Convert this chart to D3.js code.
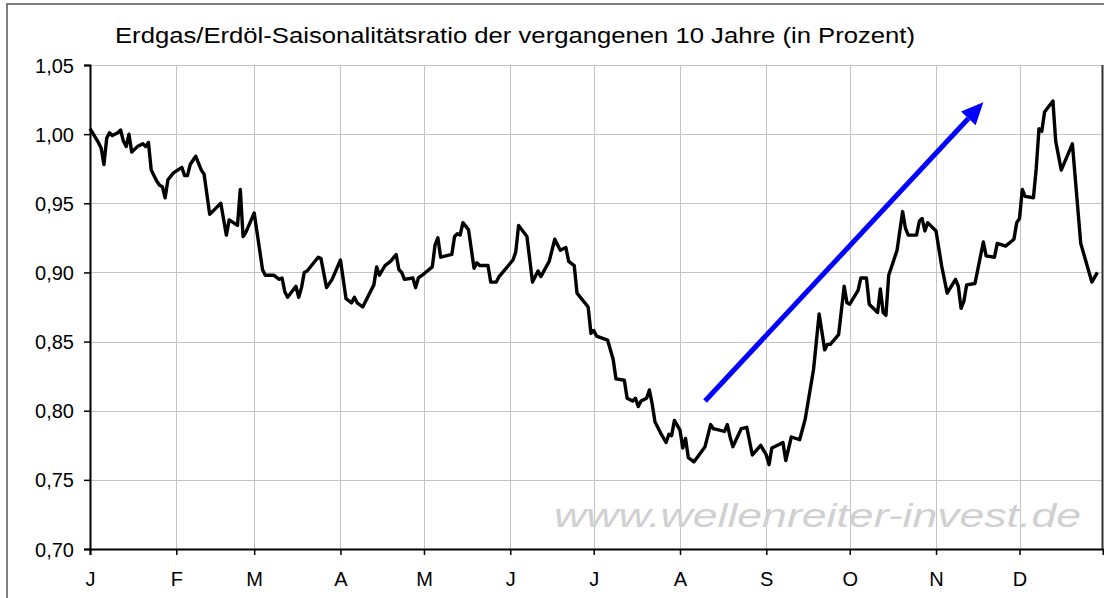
<!DOCTYPE html>
<html>
<head>
<meta charset="utf-8">
<script src="https://cdn.jsdelivr.net/npm/d3@7/dist/d3.min.js"></script>
<style>
  body { margin: 0; background: #fff; }
  svg { display: block; font-family: 'Liberation Sans', Arial, sans-serif; }
</style>
</head>
<body>
<div id="chart"></div>
<script>
var title = 'Erdgas/Erdöl-Saisonalitätsratio der vergangenen 10 Jahre (in Prozent)';
var watermark = 'www.wellenreiter-invest.de';
var monthLetters = ['J', 'F', 'M', 'A', 'M', 'J', 'J', 'A', 'S', 'O', 'N', 'D'];
var yTicks = [0.70, 0.75, 0.80, 0.85, 0.90, 0.95, 1.00, 1.05];

// day of the year (0 = 1st of January) and the ratio on that day
var days = [0, 3, 4, 5, 6, 7, 8, 10, 11, 12, 13, 14, 15, 17, 19, 20, 21, 22, 24, 25,
    26, 27, 28, 30, 33, 34, 35, 36, 38, 40, 41, 43, 47, 49, 50, 53, 54, 55, 56, 59,
    62, 63, 66, 68, 69, 70, 71, 74, 75, 76, 77, 78, 82, 83, 85, 87, 90, 92, 94, 95,
    96, 98, 102, 103, 104, 106, 108, 110, 111, 112, 113, 116, 117, 118, 120, 123, 124, 125, 126, 130,
    131, 132, 133, 134, 136, 138, 139, 140, 143, 144, 146, 147, 152, 153, 154, 157, 159, 161, 162, 165,
    167, 169, 171, 172, 174, 175, 179, 180, 181, 182, 186, 188, 189, 192, 193, 195, 196, 197, 198, 200,
    201, 202, 203, 205, 207, 208, 209, 210, 212, 213, 214, 215, 217, 221, 223, 224, 228, 229, 230, 231,
    234, 236, 238, 241, 243, 244, 245, 248, 249, 250, 252, 255, 257, 260, 262, 264, 265, 266, 269, 271,
    272, 273, 276, 277, 279, 280, 283, 284, 285, 286, 287, 290, 292, 293, 294, 297, 298, 299, 300, 301,
    304, 306, 308, 311, 312, 313, 314, 315, 318, 321, 322, 325, 326, 329, 332, 333, 334, 335, 336, 339,
    340, 341, 342, 343, 346, 347, 349, 353, 356, 360, 362];
var ratio = [1.004, 0.994, 0.990, 0.978, 0.997, 1.001, 0.999, 1.001, 1.003, 0.995, 0.991, 1.000, 0.987, 0.991, 0.993, 0.991, 0.994, 0.974, 0.966, 0.963,
    0.962, 0.954, 0.967, 0.972, 0.976, 0.970, 0.970, 0.978, 0.984, 0.974, 0.971, 0.942, 0.950, 0.927, 0.938, 0.934, 0.960, 0.926, 0.929, 0.943,
    0.902, 0.898, 0.898, 0.895, 0.896, 0.886, 0.882, 0.890, 0.882, 0.889, 0.900, 0.901, 0.911, 0.910, 0.889, 0.895, 0.909, 0.881, 0.878, 0.882,
    0.878, 0.875, 0.891, 0.904, 0.898, 0.905, 0.908, 0.913, 0.902, 0.900, 0.895, 0.896, 0.889, 0.896, 0.899, 0.904, 0.920, 0.925, 0.911, 0.913,
    0.926, 0.928, 0.927, 0.936, 0.931, 0.903, 0.907, 0.905, 0.905, 0.893, 0.893, 0.897, 0.909, 0.915, 0.934, 0.926, 0.893, 0.901, 0.897, 0.908,
    0.924, 0.916, 0.918, 0.908, 0.905, 0.885, 0.875, 0.856, 0.858, 0.854, 0.851, 0.837, 0.823, 0.822, 0.809, 0.807, 0.809, 0.803, 0.807, 0.809,
    0.815, 0.805, 0.792, 0.784, 0.777, 0.783, 0.782, 0.793, 0.786, 0.773, 0.780, 0.766, 0.763, 0.774, 0.790, 0.787, 0.785, 0.790, 0.781, 0.774,
    0.787, 0.788, 0.768, 0.775, 0.768, 0.761, 0.773, 0.776, 0.777, 0.764, 0.781, 0.779, 0.794, 0.830, 0.870, 0.844, 0.848, 0.848, 0.855, 0.890,
    0.878, 0.877, 0.887, 0.896, 0.896, 0.877, 0.871, 0.888, 0.871, 0.869, 0.898, 0.916, 0.944, 0.932, 0.927, 0.927, 0.937, 0.939, 0.930, 0.936,
    0.930, 0.905, 0.885, 0.895, 0.890, 0.874, 0.879, 0.891, 0.892, 0.922, 0.912, 0.911, 0.921, 0.919, 0.924, 0.936, 0.939, 0.960, 0.955, 0.954,
    0.975, 1.004, 1.002, 1.016, 1.024, 0.995, 0.974, 0.993, 0.921, 0.893, 0.900];

// blue trend arrow (day, ratio)
var arrowFrom = [221, 0.807];
var arrowTo = [321, 1.023];

var width = 1104, height = 598;
var yearStart = new Date(2001, 0, 1);
function dayToDate(d) { return d3.timeDay.offset(yearStart, d); }

var svg = d3.select('#chart').append('svg')
            .attr('width', width)
            .attr('height', height);

var x = d3.scaleTime()
          .domain([yearStart, new Date(2001, 11, 31)])
          .range([90, 1103]);
var y = d3.scaleLinear()
          .domain([0.70, 1.05])
          .range([549, 65]);

// outer frame
svg.append('rect')
   .attr('x', 7).attr('y', 4)
   .attr('width', 1200).attr('height', 700)
   .style('fill', 'none')
   .style('stroke', '#555')
   .style('stroke-width', 1.5);

svg.append('text')
   .attr('x', 115).attr('y', 43)
   .attr('textLength', 800)
   .attr('lengthAdjust', 'spacingAndGlyphs')
   .style('font-size', '22px')
   .style('fill', '#000')
   .text(title);

var months = d3.timeMonth.range(yearStart, new Date(2002, 0, 1));

// grid
svg.append('g').selectAll('line.hgrid')
   .data(yTicks.slice(1))
   .enter().append('line')
   .attr('x1', 90).attr('x2', 1103)
   .attr('y1', function (d) { return Math.round(y(d)) + 0.5; })
   .attr('y2', function (d) { return Math.round(y(d)) + 0.5; })
   .style('stroke', '#c4c4c4')
   .style('stroke-width', 1);

svg.append('g').selectAll('line.vgrid')
   .data(months.slice(1))
   .enter().append('line')
   .attr('x1', function (d) { return Math.round(x(d)) + 0.5; })
   .attr('x2', function (d) { return Math.round(x(d)) + 0.5; })
   .attr('y1', 65).attr('y2', 549)
   .style('stroke', '#c4c4c4')
   .style('stroke-width', 1);

// watermark
svg.append('text')
   .attr('x', 554).attr('y', 527)
   .attr('textLength', 527)
   .attr('lengthAdjust', 'spacingAndGlyphs')
   .style('font-size', '33px')
   .style('font-style', 'italic')
   .style('fill', '#d0d0d0')
   .text(watermark);

// axes
var yAxis = d3.axisLeft(y)
              .tickValues(yTicks)
              .tickSize(6)
              .tickPadding(10)
              .tickFormat(function (d) { return d3.format('.2f')(d).replace('.', ','); });
var gy = svg.append('g').attr('transform', 'translate(90,0)').call(yAxis);

var xAxis = d3.axisBottom(x)
              .tickValues(months)
              .tickSize(6)
              .tickPadding(17)
              .tickFormat(function (d) { return monthLetters[d.getMonth()]; });
var gx = svg.append('g').attr('transform', 'translate(0,549)').call(xAxis);

[gx, gy].forEach(function (g) {
    g.select('.domain').style('stroke', '#000').style('stroke-width', 2);
    g.selectAll('.tick line').style('stroke', '#000').style('stroke-width', 1.5);
    g.selectAll('.tick text')
     .style('font-size', '20px')
     .style('font-family', "'Liberation Sans', Arial, sans-serif")
     .style('fill', '#000');
});
gy.selectAll('.tick text').attr('dy', '0.35em');

// right border
svg.append('line')
   .attr('x1', 1102.5).attr('x2', 1102.5)
   .attr('y1', 65).attr('y2', 549)
   .style('stroke', '#333')
   .style('stroke-width', 2);

// series
var points = days.map(function (d, i) { return [dayToDate(d), ratio[i]]; });
var line = d3.line()
             .x(function (d) { return x(d[0]); })
             .y(function (d) { return y(d[1]); });

svg.append('path')
   .datum(points)
   .attr('d', line)
   .style('fill', 'none')
   .style('stroke', '#000')
   .style('stroke-width', 3.4)
   .style('stroke-linejoin', 'round');

// trend arrow
var ax1 = x(dayToDate(arrowFrom[0])), ay1 = y(arrowFrom[1]);
var ax2 = x(dayToDate(arrowTo[0])), ay2 = y(arrowTo[1]);
var ang = Math.atan2(ay2 - ay1, ax2 - ax1);
var headLen = 22, headW = 10;
var bx = ax2 - headLen * Math.cos(ang), by = ay2 - headLen * Math.sin(ang);

svg.append('line')
   .attr('x1', ax1).attr('y1', ay1)
   .attr('x2', bx).attr('y2', by)
   .style('stroke', '#0000ff')
   .style('stroke-width', 5);

svg.append('path')
   .attr('d', 'M' + ax2 + ',' + ay2 +
              'L' + (bx + headW * Math.sin(ang)) + ',' + (by - headW * Math.cos(ang)) +
              'L' + (bx - headW * Math.sin(ang)) + ',' + (by + headW * Math.cos(ang)) + 'Z')
   .style('fill', '#0000ff');
</script>
</body>
</html>
